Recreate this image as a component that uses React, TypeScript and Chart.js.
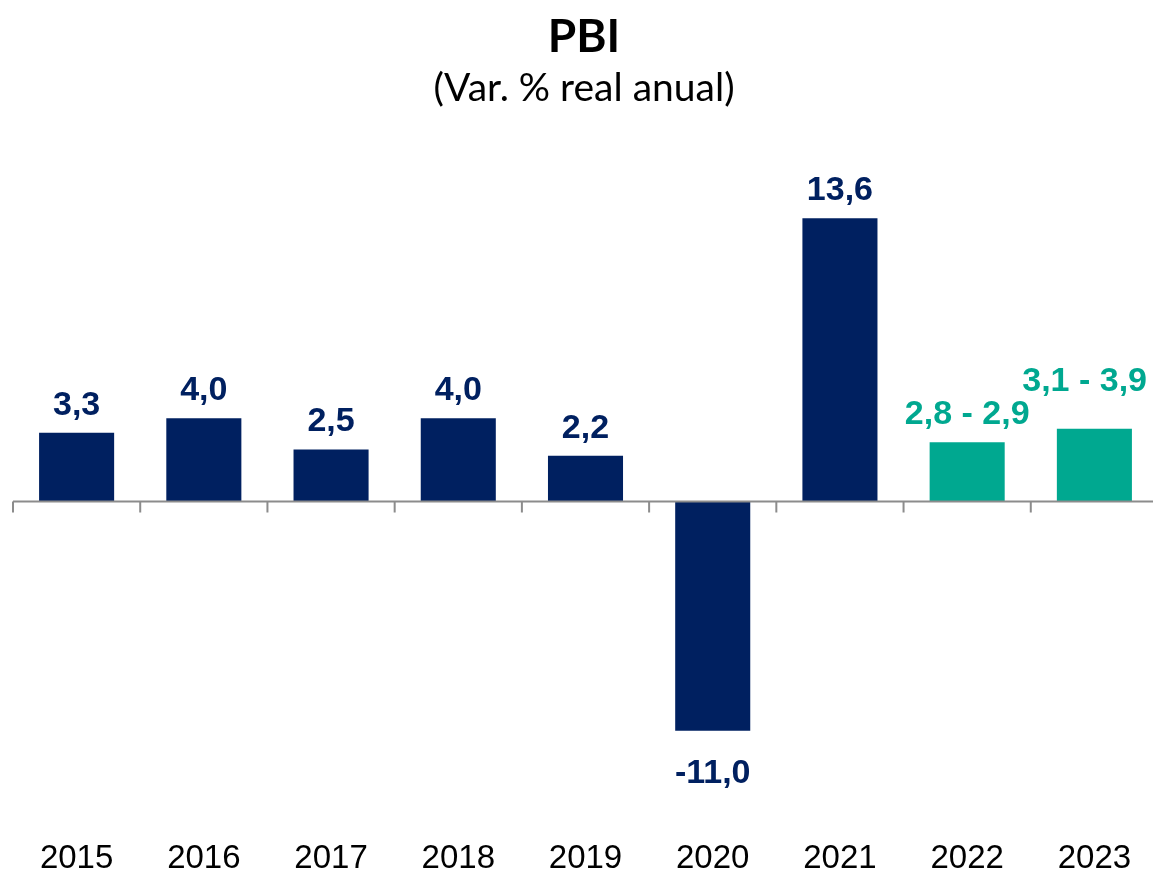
import React, { useEffect, useRef } from "react";
import { Chart, registerables } from "chart.js";

Chart.register(...registerables);

const years = ["2015", "2016", "2017", "2018", "2019", "2020", "2021", "2022", "2023"];
const growth = [3.3, 4.0, 2.5, 4.0, 2.2, -11.0, 13.6, 2.85, 3.5];
const valueLabels = ["3,3", "4,0", "2,5", "4,0", "2,2", "-11,0", "13,6", "2,8 - 2,9", "3,1 - 3,9"];
const isProjection = [false, false, false, false, false, false, false, true, true];

const titleText = "PBI";
const subtitleText = "(Var. % real anual)";

const NAVY = "#002060";
const TEAL = "#00A890";
const AXIS = "#8c8c8c";

const W = 1170;
const H = 870;

const overlayPlugin = {
  id: "overlay",
  afterDatasetsDraw(chart: any) {
    const ctx = chart.ctx;
    const xs = chart.scales.x;
    const ys = chart.scales.y;
    const area = chart.chartArea;
    const y0 = ys.getPixelForValue(0);
    const n = years.length;
    const step = (area.right - area.left) / n;

    ctx.save();
    // zero axis line with boundary tick marks
    ctx.strokeStyle = AXIS;
    ctx.lineWidth = 2;
    ctx.beginPath();
    ctx.moveTo(area.left, y0);
    ctx.lineTo(area.right, y0);
    for (let i = 0; i <= n; i++) {
      const bx = i < n ? xs.getPixelForTick(i) - step / 2 : xs.getPixelForTick(n - 1) + step / 2;
      ctx.moveTo(bx, y0);
      ctx.lineTo(bx, y0 + 11);
    }
    ctx.stroke();

    // value labels
    const meta = chart.getDatasetMeta(0);
    ctx.font = "bold 34px 'Liberation Sans', Arial, sans-serif";
    ctx.textAlign = "center";
    ctx.textBaseline = "alphabetic";
    const digitH = 24.5;
    const placed: { l: number; r: number; top: number }[] = [];
    meta.data.forEach((bar: any, i: number) => {
      const text = valueLabels[i];
      const w = ctx.measureText(text).width;
      let cx = bar.x;
      if (cx + w / 2 > 1147) cx = 1147 - w / 2;
      const v = growth[i];
      let base: number;
      if (v >= 0) {
        base = bar.y - 18;
        const prev = placed[placed.length - 1];
        if (prev && cx - w / 2 < prev.r && base > prev.top - 9) {
          base = prev.top - 9;
        }
      } else {
        base = bar.y + 52;
      }
      ctx.fillStyle = isProjection[i] ? TEAL : NAVY;
      ctx.fillText(text, cx, base);
      placed.push({ l: cx - w / 2, r: cx + w / 2, top: base - digitH });
    });

    // category labels
    ctx.fillStyle = "#000000";
    ctx.font = "33px 'Liberation Sans', Arial, sans-serif";
    years.forEach((yr, i) => {
      ctx.fillText(yr, xs.getPixelForTick(i), 868);
    });

    // titles
    ctx.font = "bold 46px Lato, 'Open Sans', sans-serif";
    ctx.fillText(titleText, 584, 52);
    ctx.font = "39px Lato, 'Open Sans', sans-serif";
    ctx.fillText(subtitleText, 584, 101);
    ctx.restore();
  },
};

export default function App() {
  const ref = useRef<HTMLCanvasElement>(null);
  useEffect(() => {
    document.body.style.margin = "0";
    document.body.style.overflow = "hidden";
    document.documentElement.style.overflow = "hidden";
    const canvas = ref.current;
    if (!canvas) return;
    const chart = new Chart(canvas, {
      type: "bar",
      data: {
        labels: years,
        datasets: [
          {
            data: growth,
            backgroundColor: isProjection.map((p) => (p ? TEAL : NAVY)),
            borderWidth: 0,
            categoryPercentage: 1,
            barPercentage: 0.59,
          },
        ],
      },
      options: {
        responsive: false,
        animation: false,
        devicePixelRatio: 1,
        layout: { padding: { top: 160, bottom: 80, left: 13, right: 12 } },
        plugins: {
          legend: { display: false },
          tooltip: { enabled: false },
          title: { display: false },
        },
        scales: {
          x: { display: false, offset: true },
          y: { display: false, min: -13.84, max: 16.39 },
        },
      },
      plugins: [overlayPlugin],
    });
    return () => chart.destroy();
  }, []);
  return (
    <div style={{ width: W, height: H, background: "#fff", overflow: "hidden" }}>
      <canvas ref={ref} width={W} height={H} style={{ display: "block" }} />
    </div>
  );
}
